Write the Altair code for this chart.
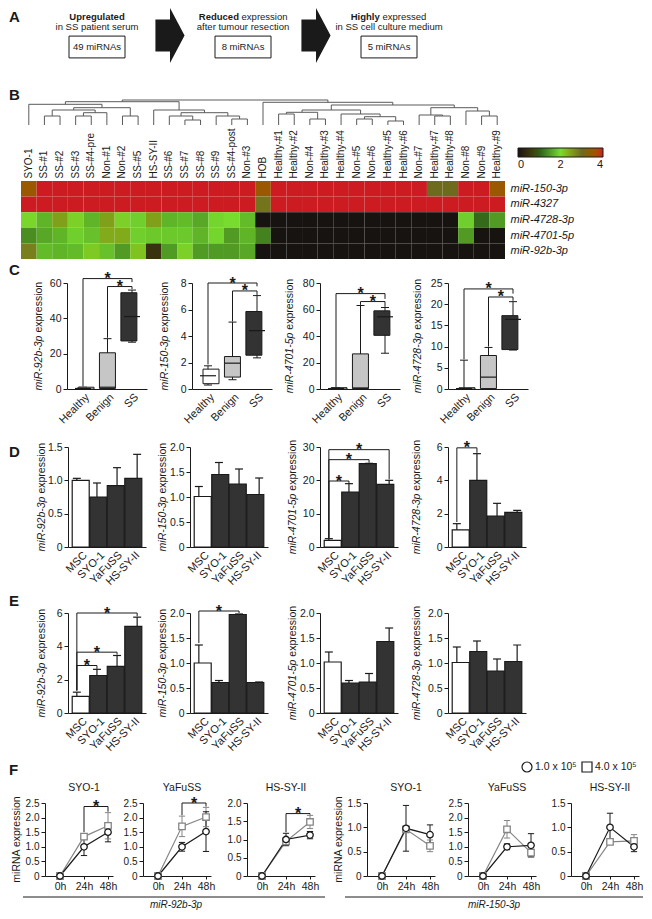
import altair as alt
import pandas as pd

FONT = "Liberation Sans"
INK = "#1a1a1a"
BAR_DARK = "#333333"
BOX_GREY = "#c6c6c6"
LINE_GREY = "#858585"
DENDRO = "#5a5a5a"

W_ALL, H_ALL = 636, 903

# ================= DATA =================
A_bold = ["Upregulated", "Reduced", "Highly"]
A_tail = ["", "expression", "expressed"]
A_line2 = ["in SS patient serum", "after tumour resection", "in SS cell culture medium"]
A_count = ["49 miRNAs", "8 miRNAs", "5 miRNAs"]

B_samples = ["SYO-1", "SS-#1", "SS-#2", "SS-#3", "SS-#4-pre", "Non-#1", "Non-#2", "SS-#5",
             "HS-SY-II", "SS-#6", "SS-#7", "SS-#8", "SS-#9", "SS-#4-post", "Non-#3", "HOB",
             "Healthy-#1", "Healthy-#2", "Non-#4", "Healthy-#3", "Healthy-#4", "Non-#5", "Non-#6",
             "Healthy-#5", "Healthy-#6", "Non-#7", "Healthy-#7", "Healthy-#8", "Non-#8", "Non-#9",
             "Healthy-#9"]
B_mirs = ["miR-150-3p", "miR-4327", "miR-4728-3p", "miR-4701-5p", "miR-92b-3p"]
B_150 = [3.5] + [4] * 14 + [3.5] + [4] * 10 + [3.0, 3.0, 4, 4, 3.5]
B_4327 = [4] * 15 + [2.9] + [4] * 15
B_4728 = [2.05, 1.7, 2.5, 2.1, 1.7, 2.5, 2.1, 1.9, 2.5, 1.7, 1.75, 1.6, 1.95, 2.0, 1.75] + [0] * 13 + [1.9, 1.1, 1.5]
B_4701 = [1.4, 1.6, 1.7, 1.9, 1.8, 2.4, 2.4, 1.9, 1.85, 1.85, 1.85, 1.7, 1.95, 1.5, 1.7] + [1.3] + [0] * 12 + [1.5, 0, 0]
B_92b = [2.8, 1.75, 1.7, 1.75, 2.15, 1.8, 1.5, 2.2, 0.5, 1.5, 2.1, 1.5, 1.5, 1.5, 1.6] + [0] * 16
B_values = [B_150, B_4327, B_4728, B_4701, B_92b]
B_link_a = [1, 3, 32, 31, 6, 34, 0, 10, 9, 13, 12, 39, 8, 37, 16, 18, 45, 21, 23, 48, 20, 47, 26, 25, 29, 28, 54, 52, 15, 44]
B_link_b = [2, 4, 5, 33, 7, 35, 36, 11, 38, 14, 40, 41, 42, 43, 17, 19, 46, 22, 24, 49, 50, 51, 27, 53, 30, 55, 56, 57, 58, 59]
B_link_h = [9, 9, 12.3, 15, 9, 17.3, 20.7, 5, 9, 6, 9, 12.3, 15, 23.3, 11, 6, 12.7, 6, 4, 8.3, 11, 15, 9, 10, 9, 14, 17.3, 20, 22.7, 25]

C_groups = ["Healthy", "Benign", "SS"]
C_mirs = ["miR-92b-3p", "miR-150-3p", "miR-4701-5p", "miR-4728-3p"]
C_ticks = [[0, 20, 40, 60], [0, 2, 4, 6, 8], [0, 20, 40, 60, 80], [0, 5, 10, 15, 20, 25]]
C_min = [[0, 0, 26.5], [0.3, 0.7, 2.35], [0, 0, 27], [0, 0, 9.2]]
C_q1 = [[0, 0.3, 27.2], [0.4, 0.9, 2.55], [0, 0.3, 40.5], [0, 0.1, 9.3]]
C_med = [[0.3, 1.0, 41], [1.0, 1.95, 4.4], [0.3, 0.8, 54.5], [0.1, 2.8, 16.4]]
C_q3 = [[1.0, 20.5, 54.5], [1.5, 2.45, 5.85], [1.0, 26.5, 59], [0.3, 7.9, 17.3]]
C_max = [[1.0, 28.5, 56], [1.75, 5.05, 7.05], [1.0, 63, 61.5], [6.8, 9.8, 20.6]]
C_sig = [[(0, 2, 62.5, 1.5, 60.5), (1, 2, 58, 29, 56.5)],
         [(0, 2, 8.0, 1.85, 7.75), (1, 2, 7.4, 5.1, 7.1)],
         [(0, 2, 72, 1.5, 68), (1, 2, 66, 63.5, 62)],
         [(0, 2, 23.6, 7.0, 22.5), (1, 2, 21.7, 10.0, 20.8)]]

DE_cells = ["MSC", "SYO-1", "YaFuSS", "HS-SY-II"]
DE_mirs = ["miR-92b-3p", "miR-150-3p", "miR-4701-5p", "miR-4728-3p"]
D_ticks = [[0, 0.5, 1.0, 1.5], [0, 0.5, 1.0, 1.5, 2.0], [0, 10, 20, 30], [0, 2, 4, 6]]
D_mean = [[1.0, 0.75, 0.92, 1.03], [1.01, 1.45, 1.26, 1.05], [2.0, 16.5, 25.0, 18.8], [1.03, 4.0, 1.85, 2.08]]
D_err = [[0.03, 0.21, 0.27, 0.36], [0.2, 0.24, 0.3, 0.33], [0.5, 2.5, 0.1, 1.2], [0.37, 1.6, 0.77, 0.12]]
D_sig = [[], [], [(0, 1, 19.8, 2.7, 19.1), (0, 2, 26.2, 2.7, 25.3), (0, 3, 29.2, 2.7, 20.3)],
         [(0, 1, 5.95, 1.5, 5.65)]]
E_ticks = [[0, 2, 4, 6], [0, 0.5, 1.0, 1.5, 2.0], [0, 0.5, 1.0, 1.5, 2.0], [0, 0.5, 1.0, 1.5, 2.0]]
E_mean = [[1.0, 2.25, 2.8, 5.2], [1.0, 0.61, 1.97, 0.61], [1.02, 0.6, 0.62, 1.43], [1.01, 1.23, 0.84, 1.03]]
E_err = [[0.25, 0.37, 0.65, 0.55], [0.36, 0.04, 0.01, 0.01], [0.2, 0.05, 0.17, 0.27], [0.31, 0.21, 0.24, 0.33]]
E_sig = [[(0, 1, 2.85, 1.35, 2.65), (0, 2, 3.65, 1.35, 3.5), (0, 3, 6.0, 1.35, 5.8)],
         [(0, 2, 2.04, 1.4, 2.0)], [], []]

F_series = ["1.0 x 10\u2075", "4.0 x 10\u2075"]
F_times = ["0h", "24h", "48h"]
F_cells = ["SYO-1", "YaFuSS", "HS-SY-II"]
F_groups = ["miR-92b-3p", "miR-150-3p"]
F92_ticks = [[0, 0.5, 1.0, 1.5, 2.0, 2.5], [0, 0.5, 1.0, 1.5, 2.0, 2.5], [0, 0.5, 1.0, 1.5, 2.0]]
F150_ticks = [[0, 0.5, 1.0, 1.5], [0, 0.5, 1.0, 1.5, 2.0, 2.5], [0, 0.5, 1.0, 1.5]]
F92_low_m = [[0, 1.0, 1.5], [0, 1.0, 1.52], [0, 1.0, 1.12]]
F92_low_e = [[0, 0.3, 0.33], [0, 0.15, 0.68], [0, 0.17, 0.1]]
F92_high_m = [[0, 1.35, 1.72], [0, 1.7, 2.02], [0, 0.95, 1.48]]
F92_high_e = [[0, 0.1, 0.45], [0, 0.35, 0.33], [0, 0.08, 0.18]]
F150_low_m = [[0, 0.98, 0.85], [0, 1.0, 1.05], [0, 1.0, 0.6]]
F150_low_e = [[0, 0.47, 0.2], [0, 0.1, 0.4], [0, 0.29, 0.1]]
F150_high_m = [[0, 0.96, 0.62], [0, 1.6, 0.8], [0, 0.7, 0.72]]
F150_high_e = [[0, 0.05, 0.12], [0, 0.3, 0.12], [0, 0.03, 0.13]]
F92_sig = [[(1, 2, 2.38, 1.5, 2.2)], [(1, 2, 2.5, 2.08, 2.38)], [(1, 2, 1.71, 1.2, 1.68)]]
F150_sig = [[], [], []]

# ================= LAYOUT (pixel frames of each panel) =================
A_X = [16, 454]
B_X = [13, 497]
B_DEND_Y = [117, 92]
B_HEAT_Y = [173, 251]
C_X = [59, 184, 312, 440]
C_W = 80
C_Y = [381, 275]
C_TITLE = [26, 152, 277, 405]
DE_X = [60, 182, 312, 440]
DE_W = 78
D_Y = [539, 439]
E_Y = [705, 605]
DE_TITLE = [29, 150, 280, 404]
F_X = [37, 135, 239, 359, 460, 563]
F_W = 68
F_Y = [868, 795]
F_TITLE = [4, 326]

# ================= HELPERS =================
_W = {}
for _c in "0123456789abdeghnopqu#":
    _W[_c] = 0.556
for _c in "cksvxyz":
    _W[_c] = 0.5
for _c in "ft":
    _W[_c] = 0.278
for _c in "ijl":
    _W[_c] = 0.222
_W.update({"r": 0.333, "m": 0.833, "w": 0.722, " ": 0.278, "-": 0.333, ".": 0.278, "I": 0.278})


def tw(s, size, bold=False):
    tot = 0.0
    for c in s:
        if c in _W:
            tot += _W[c]
        elif c.isupper():
            tot += 0.70
        else:
            tot += 0.556
    return tot * size * (1.07 if bold else 1.0)


def label(text, x, y, size=10, weight="normal", style="normal", align="left",
          baseline="alphabetic", angle=0, color=INK):
    props = dict(font=FONT, fontSize=size, fontWeight=weight, fontStyle=style,
                 align=align, baseline=baseline, color=color)
    if angle:
        props["angle"] = angle
    return alt.Chart(pd.DataFrame({"t": [text]})).mark_text(**props).encode(
        text="t:N", x=alt.value(x), y=alt.value(y))


def letter(ch, x, y):
    return label(ch, x, y, 15, weight="bold", baseline="top")


def ytitle(mir, x, yrange, size=10.5):
    w1 = tw(mir, size)
    gap = 0.278 * size
    w2 = tw("expression", size)
    mid = (yrange[0] + yrange[1]) / 2
    split = mid + (w1 + gap + w2) / 2 - w1
    return [label(mir, x, split, size, style="italic", align="right", baseline="top", angle=270),
            label("expression", x, split - gap, size, align="left", baseline="top", angle=270)]


def qs(domain, rng, zero=False):
    return alt.Scale(domain=domain, range=rng, nice=False, zero=zero)


def yax(vals, xpos, size=10.5):
    dec = any(float(v) != int(v) for v in vals)
    expr = "datum.value == 0 ? '0' : format(datum.value, '.1f')" if dec else "format(datum.value, 'd')"
    return alt.Axis(orient="left", offset=-xpos, values=vals, labelExpr=expr, title=None, grid=False,
                    tickSize=4, tickWidth=1, domainWidth=1, labelFontSize=size, labelPadding=2,
                    labelFlush=False, labelOverlap=False, domainColor=INK, tickColor=INK,
                    labelColor=INK, labelFont=FONT)


def xax(names, ypos, angle=315, ticks=False, size=11):
    expr = "[" + ",".join("'%s'" % n for n in names) + "][datum.value]"
    kw = dict(orient="bottom", offset=ypos - H_ALL, values=list(range(len(names))), labelExpr=expr,
              title=None, grid=False, ticks=ticks, domainWidth=1, labelFontSize=size, labelPadding=2,
              labelFlush=False, labelOverlap=False, domainColor=INK, tickColor=INK, labelColor=INK,
              labelFont=FONT)
    if angle:
        kw.update(labelAngle=angle, labelAlign="right", labelBaseline="top")
    else:
        kw.update(labelAngle=0, labelAlign="center", labelBaseline="top")
    if ticks:
        kw.update(tickSize=3, tickWidth=1)
    return alt.Axis(**kw)


def sig_layers(sig, xs, ys):
    if not sig:
        return []
    segs, stars = [], []
    for (i, j, y, yl, yr) in sig:
        segs += [dict(x=i, x2=j, y=y, y2=y), dict(x=i, x2=i, y=yl, y2=y), dict(x=j, x2=j, y=yr, y2=y)]
        stars.append(dict(xm=(i + j) / 2, y=y))
    rules = alt.Chart(pd.DataFrame(segs)).mark_rule(color=INK, strokeWidth=1).encode(
        x=alt.X("x:Q", scale=xs, axis=None), x2="x2:Q",
        y=alt.Y("y:Q", scale=ys, axis=None), y2="y2:Q")
    st = alt.Chart(pd.DataFrame(stars)).mark_text(
        text="*", font=FONT, fontSize=16, fontWeight="bold", dy=5.5, baseline="alphabetic", color=INK
    ).encode(x=alt.X("xm:Q", scale=xs, axis=None), y=alt.Y("y:Q", scale=ys, axis=None))
    return [rules, st]


# ================= PANEL A =================
ARROW_PATH = "M -0.53 -0.58 L 0 -0.58 L 0 -1 L 0.53 0 L 0 1 L 0 0.58 L -0.53 0.58 Z"
BOX_PATH = "M -1 -0.39 L 1 -0.39 L 1 0.39 L -1 0.39 Z"


def panel_A():
    xs = qs([0, 3], A_X)
    X = alt.X("pos:Q", scale=xs, axis=None)
    fs = 9.5

    def step_text(pos, text, y, weight, align, dx, baseline="alphabetic"):
        props = dict(font=FONT, fontSize=fs, fontWeight=weight, align=align, baseline=baseline, color=INK)
        if dx:
            props["dx"] = dx
        return alt.Chart(pd.DataFrame({"pos": [pos], "t": [text]})).mark_text(**props).encode(
            x=X, y=alt.value(y), text="t:N")

    layers = []
    for i in range(3):
        pos = i + 0.5
        if A_tail[i]:
            gap = 0.278 * fs
            wb = tw(A_bold[i], fs, True)
            wt = tw(A_tail[i], fs)
            off = -(wb + gap + wt) / 2 + wb
            layers.append(step_text(pos, A_bold[i], 12, "bold", "right", off))
            layers.append(step_text(pos, A_tail[i], 12, "normal", "left", off + gap))
        else:
            layers.append(step_text(pos, A_bold[i], 12, "bold", "center", 0))
        layers.append(step_text(pos, A_line2[i], 22, "normal", "center", 0))
        layers.append(step_text(pos, A_count[i], 39, "normal", "center", 0, baseline="middle"))
    boxes = alt.Chart(pd.DataFrame({"pos": [0.5, 1.5, 2.5]})).mark_point(
        shape=BOX_PATH, size=56 * 56, filled=False, color=INK, strokeWidth=1, opacity=1
    ).encode(x=X, y=alt.value(39))
    arrows = alt.Chart(pd.DataFrame({"pos": [1.0, 2.0]})).mark_point(
        shape=ARROW_PATH, size=55 * 55, filled=True, color=INK, opacity=1, strokeWidth=0
    ).encode(x=X, y=alt.value(27.5))
    return [boxes, arrows] + layers + [letter("A", 1, 2)]


# ================= PANEL B =================
def panel_B():
    nx = [float(i) for i in range(len(B_samples))]
    nh = [0.0] * len(B_samples)
    segs = []
    for a, b, h in zip(B_link_a, B_link_b, B_link_h):
        xa, xb = nx[a], nx[b]
        segs += [dict(x=xa, x2=xb, y=h, y2=h), dict(x=xa, x2=xa, y=nh[a], y2=h),
                 dict(x=xb, x2=xb, y=nh[b], y2=h)]
        nx.append((xa + xb) / 2)
        nh.append(h)
    dend = alt.Chart(pd.DataFrame(segs)).mark_rule(color=DENDRO, strokeWidth=1).encode(
        x=alt.X("x:Q", scale=qs([-0.5, len(B_samples) - 0.5], B_X), axis=None), x2="x2:Q",
        y=alt.Y("y:Q", scale=qs([0, 25], B_DEND_Y, zero=True), axis=None), y2="y2:Q")

    rows = []
    for r, mir in enumerate(B_mirs):
        for c, s in enumerate(B_samples):
            rows.append({"sample": s, "mir": mir, "v": B_values[r][c]})
    heat = alt.Chart(pd.DataFrame(rows)).mark_rect().encode(
        x=alt.X("sample:N", sort=B_samples,
                scale=alt.Scale(range=B_X, paddingInner=0, paddingOuter=0),
                axis=alt.Axis(orient="top", offset=-B_HEAT_Y[0], labelAngle=270, labelAlign="left",
                              labelBaseline="middle", ticks=False, domain=False, labelPadding=3,
                              labelFontSize=10, labelFont=FONT, labelColor=INK, title=None,
                              labelOverlap=False)),
        y=alt.Y("mir:N", sort=B_mirs,
                scale=alt.Scale(range=B_HEAT_Y, paddingInner=0, paddingOuter=0),
                axis=alt.Axis(orient="right", offset=B_X[1] - W_ALL, labelFontStyle="italic",
                              ticks=False, domain=False, labelPadding=5, labelFontSize=11,
                              labelFont=FONT, labelColor=INK, title=None)),
        color=alt.Color("v:Q",
                        scale=alt.Scale(domain=[0, 1, 2, 3, 4],
                                        range=["#161311", "#2f5e17", "#78dc2e", "#6e6a1e", "#cc1c22"]),
                        legend=alt.Legend(orient="none", legendX=510, legendY=140, direction="horizontal",
                                          gradientLength=85, gradientThickness=9, title=None,
                                          values=[0, 2, 4], labelFontSize=11, labelFont=FONT,
                                          labelColor=INK, gradientStrokeColor=INK,
                                          gradientStrokeWidth=1, labelOffset=2)))
    return [dend, heat, letter("B", 1, 80)]


# ================= PANEL C =================
def box_panel(k):
    a = C_X[k]
    xs = qs([-0.653, 2.612], [a, a + C_W])
    ys = qs([0, C_ticks[k][-1]], C_Y, zero=True)
    df = pd.DataFrame({"i": list(range(3)), "lo": C_min[k], "q1": C_q1[k], "med": C_med[k],
                       "q3": C_q3[k], "hi": C_max[k], "f": ["white", BOX_GREY, BAR_DARK]})
    base = alt.Chart(df)
    Xn = alt.X("i:Q", scale=xs, axis=None)
    whisk = base.mark_rule(color=INK, strokeWidth=1).encode(
        x=alt.X("i:Q", scale=xs, axis=xax(C_groups, C_Y[0])),
        y=alt.Y("lo:Q", scale=ys, axis=yax(C_ticks[k], a)), y2="hi:Q")
    caps = [base.mark_tick(orient="horizontal", size=8, thickness=1, color=INK, opacity=1).encode(
        x=Xn, y=alt.Y(c + ":Q", scale=ys, axis=None)) for c in ("lo", "hi")]
    box = base.mark_bar(size=16, stroke=INK, strokeWidth=1, opacity=1).encode(
        x=Xn, y=alt.Y("q3:Q", scale=ys, axis=None), y2="q1:Q",
        fill=alt.Fill("f:N", scale=None, legend=None))
    med = base.mark_tick(orient="horizontal", size=16, thickness=1.2, color=INK, opacity=1).encode(
        x=Xn, y=alt.Y("med:Q", scale=ys, axis=None))
    return [whisk] + caps + [box, med] + sig_layers(C_sig[k], xs, ys) + ytitle(C_mirs[k], C_TITLE[k], C_Y)


# ================= PANELS D / E =================
def bar_panel(k, yr, ticks, means, errs, sig):
    a = DE_X[k]
    xs = qs([-0.44, 3.44], [a, a + DE_W])
    ys = qs([0, ticks[-1]], yr, zero=True)
    df = pd.DataFrame({"i": list(range(4)), "m": means, "hi": [m + e for m, e in zip(means, errs)],
                       "f": ["white", BAR_DARK, BAR_DARK, BAR_DARK]})
    base = alt.Chart(df)
    Xn = alt.X("i:Q", scale=xs, axis=None)
    bars = base.mark_bar(size=17, stroke=INK, strokeWidth=1.2, opacity=1).encode(
        x=alt.X("i:Q", scale=xs, axis=xax(DE_cells, yr[0])),
        y=alt.Y("m:Q", scale=ys, axis=yax(ticks, a)),
        fill=alt.Fill("f:N", scale=None, legend=None))
    err = base.mark_rule(color=INK, strokeWidth=1.2).encode(
        x=Xn, y=alt.Y("m:Q", scale=ys, axis=None), y2="hi:Q")
    cap = base.mark_tick(orient="horizontal", size=8, thickness=1.2, color=INK, opacity=1).encode(
        x=Xn, y=alt.Y("hi:Q", scale=ys, axis=None))
    return [bars, err, cap] + sig_layers(sig, xs, ys) + ytitle(DE_mirs[k], DE_TITLE[k], yr)


# ================= PANEL F =================
F_stroke = alt.Scale(domain=F_series, range=[INK, LINE_GREY])
F_shape = alt.Scale(domain=F_series, range=["circle", "square"])


def line_panel(p, cell, ticks, lm, le, hm, he, sig):
    a = F_X[p]
    xs = qs([-0.625, 2.208], [a, a + F_W])
    ys = qs([0, ticks[-1]], F_Y, zero=True)
    rows = []
    for s, M, E in ((F_series[1], hm, he), (F_series[0], lm, le)):
        for ti in range(3):
            rows.append(dict(t=ti, s=s, m=M[ti], e=E[ti], lo=M[ti] - E[ti], hi=M[ti] + E[ti],
                             cl=ti - 0.13, cr=ti + 0.13))
    df = pd.DataFrame(rows)
    base = alt.Chart(df)
    Xn = alt.X("t:Q", scale=xs, axis=None)
    S = alt.Stroke("s:N", scale=F_stroke, legend=None)
    lines = base.mark_line(strokeWidth=1.2).encode(
        x=alt.X("t:Q", scale=xs, axis=xax(F_times, F_Y[0], angle=0, ticks=True, size=10.5)),
        y=alt.Y("m:Q", scale=ys, axis=yax(ticks, a, size=10)), stroke=S)
    ebase = alt.Chart(df[df["e"] > 0])
    err = ebase.mark_rule(strokeWidth=1).encode(x=Xn, y=alt.Y("lo:Q", scale=ys, axis=None), y2="hi:Q", stroke=S)
    caps = [ebase.mark_rule(strokeWidth=1).encode(x=alt.X("cl:Q", scale=xs, axis=None), x2="cr:Q",
                                                  y=alt.Y(c + ":Q", scale=ys, axis=None), stroke=S)
            for c in ("lo", "hi")]
    pts = base.mark_point(fill="white", fillOpacity=1, strokeWidth=1.3, size=42, opacity=1).encode(
        x=Xn, y=alt.Y("m:Q", scale=ys, axis=None), stroke=S,
        shape=alt.Shape("s:N", scale=F_shape, legend=None))
    layers = [lines, err] + caps + [pts] + sig_layers(sig, xs, ys)
    layers.append(label(cell, a + 39, F_Y[1] - 12, 10.5, align="center"))
    return layers


def panel_F():
    L = []
    for p in range(3):
        L += line_panel(p, F_cells[p], F92_ticks[p], F92_low_m[p], F92_low_e[p],
                        F92_high_m[p], F92_high_e[p], F92_sig[p])
        L += line_panel(p + 3, F_cells[p], F150_ticks[p], F150_low_m[p], F150_low_e[p],
                        F150_high_m[p], F150_high_e[p], F150_sig[p])
    midy = (F_Y[0] + F_Y[1]) / 2
    for tx in F_TITLE:
        L.append(label("miRNA expression", tx, midy, 10.5, align="center", baseline="top", angle=270))
    for (x1, x2, xc, txt) in ((15, 317, 168, F_groups[0]), (337, 635, 486, F_groups[1])):
        L.append(alt.Chart(pd.DataFrame({"p": [0]})).mark_rule(color=INK, strokeWidth=1).encode(
            x=alt.value(x1), x2=alt.value(x2), y=alt.value(889)))
        L.append(label(txt, xc, 892, 10, style="italic", align="center", baseline="top"))
    # legend of the two seeding densities
    for sx, shp, txt in ((519, "circle", F_series[0]), (579, "square", F_series[1])):
        L.append(alt.Chart(pd.DataFrame({"p": [0]})).mark_point(
            shape=shp, size=100, fill="white", fillOpacity=1, stroke=INK, strokeWidth=1.2, opacity=1
        ).encode(x=alt.value(sx), y=alt.value(759)))
        L.append(label(txt, sx + 8, 759, 10.5, baseline="middle"))
    L.append(letter("F", 1, 755))
    return L


layers = []
layers += panel_A()
layers += panel_B()
for k in range(4):
    layers += box_panel(k)
layers.append(letter("C", 1, 255))
for k in range(4):
    layers += bar_panel(k, D_Y, D_ticks[k], D_mean[k], D_err[k], D_sig[k])
layers.append(letter("D", 1, 437))
for k in range(4):
    layers += bar_panel(k, E_Y, E_ticks[k], E_mean[k], E_err[k], E_sig[k])
layers.append(letter("E", 1, 586))
layers += panel_F()

chart = alt.layer(*layers).resolve_scale(x="independent", y="independent").properties(
    width=W_ALL, height=H_ALL, padding={"left": 0, "top": 0, "right": 0, "bottom": 0})
chart = chart.configure_view(stroke="transparent", strokeWidth=0).configure_axis(
    labelFont=FONT).configure_legend(labelFont=FONT)
chart.save("out.html", embed_options={"renderer": "svg", "actions": False})
